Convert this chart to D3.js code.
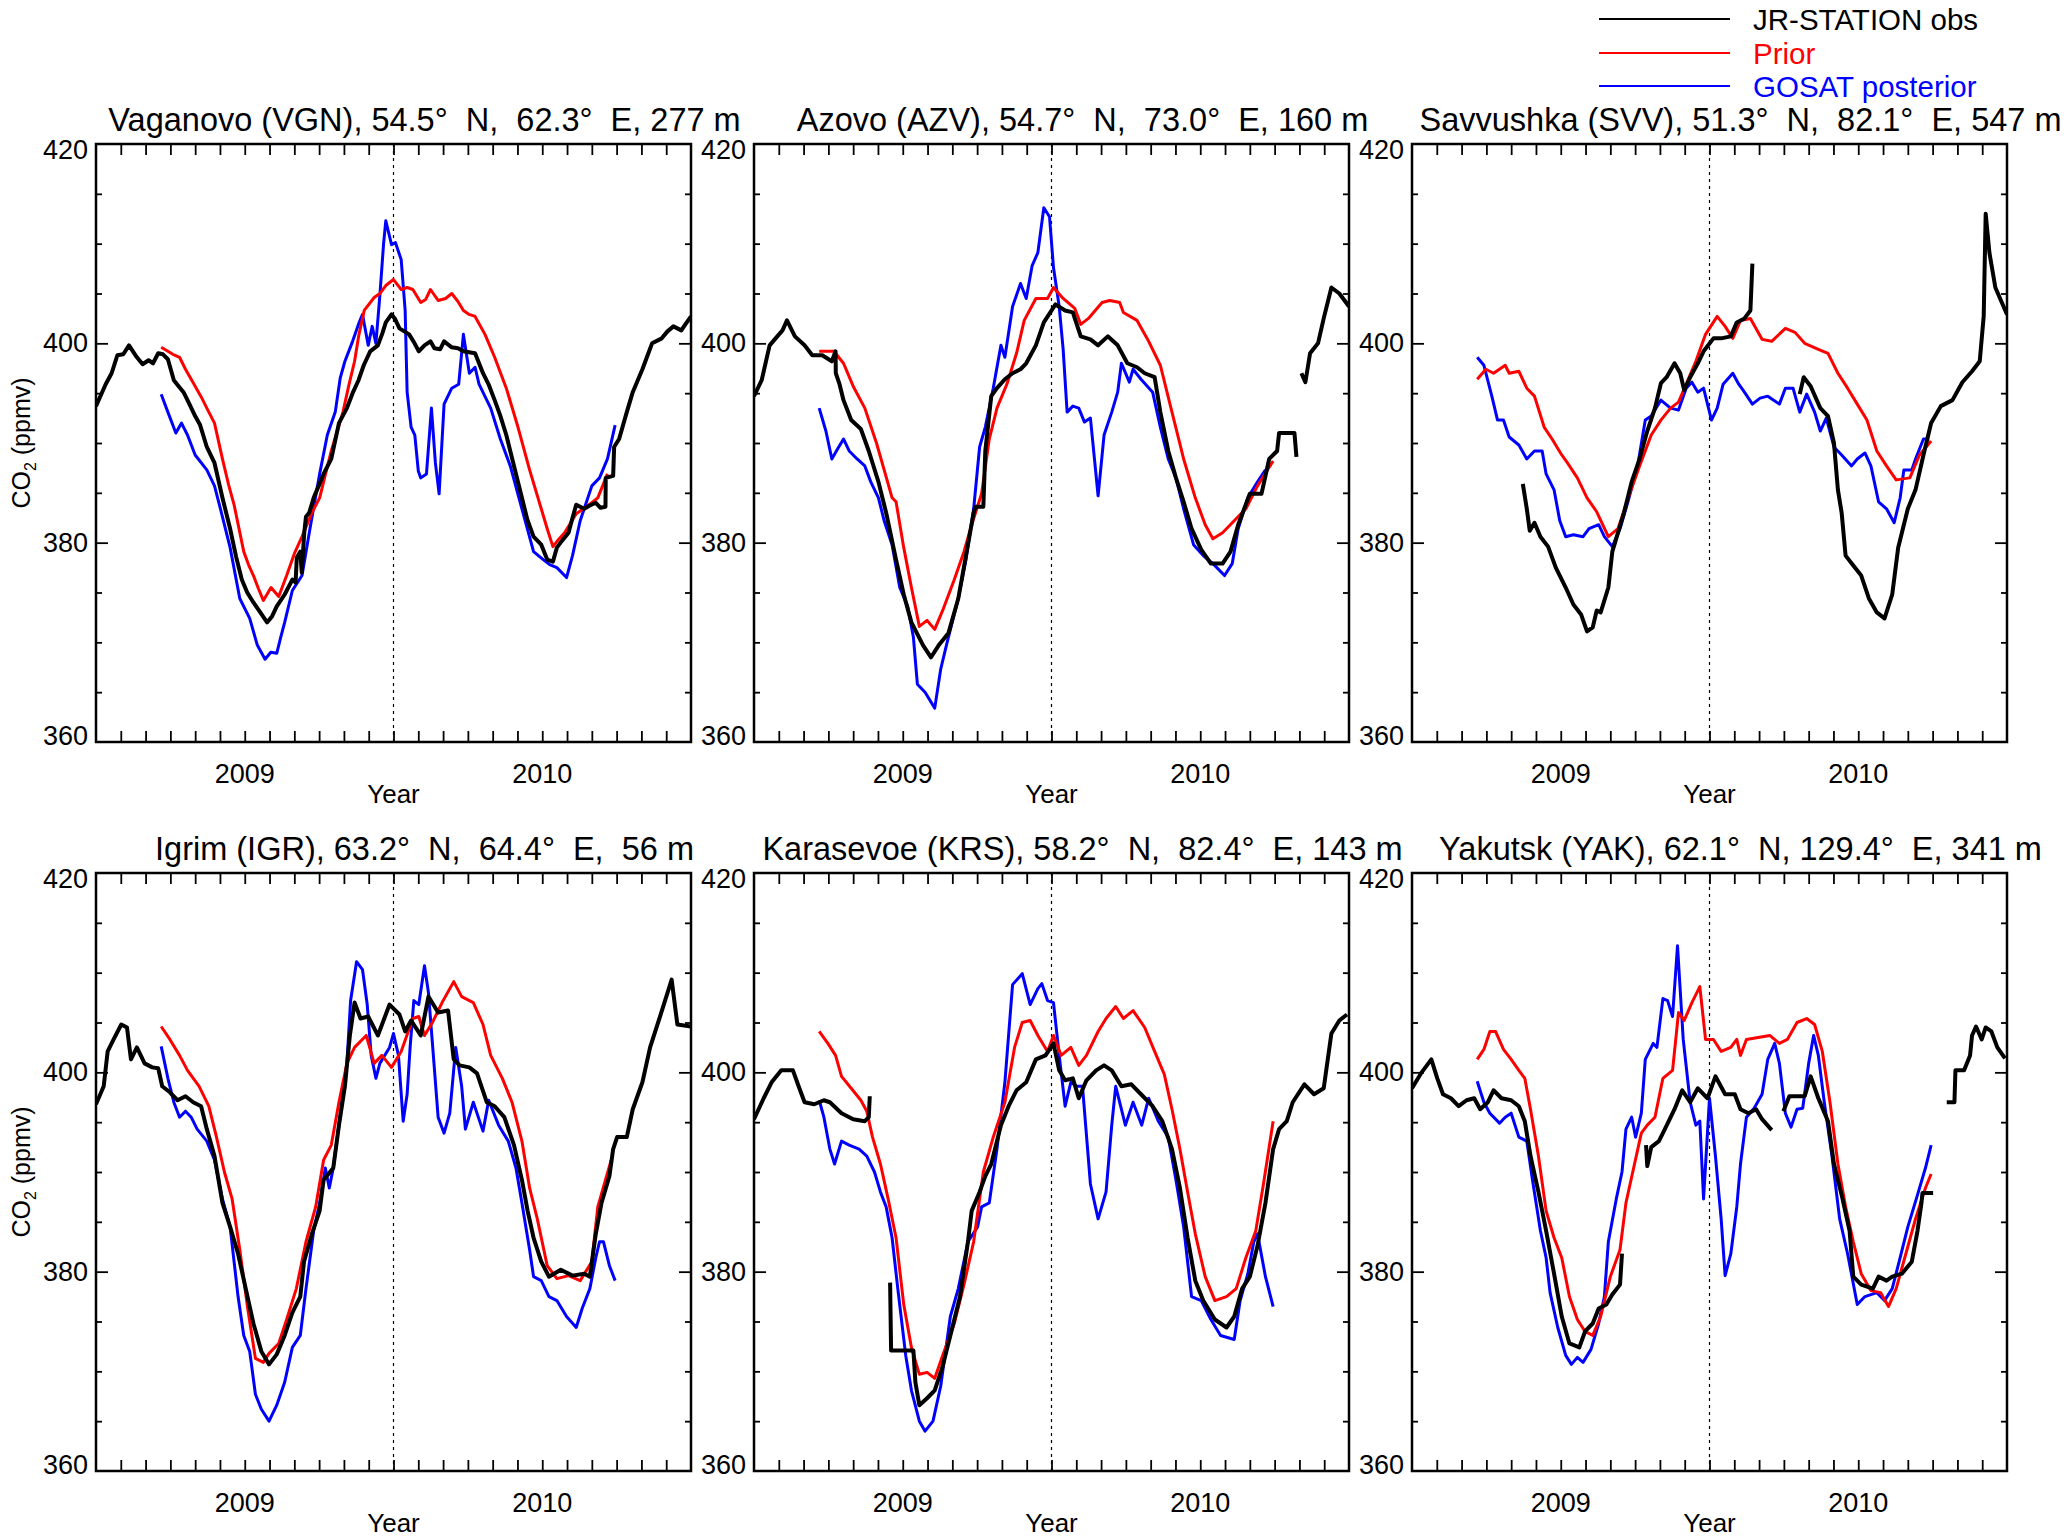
<!DOCTYPE html>
<html>
<head>
<meta charset="utf-8">
<script src="https://cdn.jsdelivr.net/npm/d3@7"></script>
<style>
  html, body { margin: 0; padding: 0; background: #fff; }
  svg { display: block; }
  text { font-family: "Liberation Sans", Arial, Helvetica, sans-serif; white-space: pre; }
</style>
</head>
<body>
<svg id="chart" width="2067" height="1539"></svg>
<script>
// x values: months since 2008-07-01 (0 .. 24), y values: CO2 in ppmv; null = gap
const stationTitles = [
  "Vaganovo (VGN), 54.5°  N,  62.3°  E, 277 m",
  "Azovo (AZV), 54.7°  N,  73.0°  E, 160 m",
  "Savvushka (SVV), 51.3°  N,  82.1°  E, 547 m",
  "Igrim (IGR), 63.2°  N,  64.4°  E,  56 m",
  "Karasevoe (KRS), 58.2°  N,  82.4°  E, 143 m",
  "Yakutsk (YAK), 62.1°  N, 129.4°  E, 341 m"
];
const seriesNames = ["JR-STATION obs", "Prior", "GOSAT posterior"];
const yearTickMonths = [6, 18];
const yearTickLabels = ["2009", "2010"];
const yTickLabels = [360, 380, 400, 420];

const VGN_obs = [[0,393.7],[0.39,395.9],[0.63,397.0],[0.86,398.8],[1.1,398.9],[1.33,399.8],[1.65,398.6],[1.88,397.9],[2.12,398.3],[2.3,398.0],[2.51,399.0],[2.7,398.9],[2.9,398.4],[3.14,396.3],[3.3,395.8],[3.53,395.1],[3.75,394.0],[4.0,392.7],[4.2,391.8],[4.47,389.6],[4.78,388.0],[5.1,384.5],[5.41,381.4],[5.65,378.6],[5.88,376.3],[6.1,375.0],[6.35,374.0],[6.6,373.1],[6.9,372.0],[7.1,372.6],[7.29,373.6],[7.61,374.8],[7.92,376.3],[8.05,376.0],[8.1,378.5],[8.24,379.1],[8.3,377.0],[8.4,381.0],[8.47,382.6],[8.6,383.0],[8.78,384.5],[9.0,385.8],[9.18,386.9],[9.49,388.4],[9.8,392.0],[10.12,393.5],[10.35,395.0],[10.59,396.3],[10.8,397.8],[11.06,399.2],[11.37,399.8],[11.55,401.0],[11.69,402.1],[11.92,402.9],[12.05,402.5],[12.24,401.5],[12.63,400.9],[12.85,400.0],[13.02,399.2],[13.25,399.8],[13.49,400.2],[13.65,399.5],[13.88,399.4],[14.04,400.2],[14.35,399.6],[14.6,399.5],[14.82,399.2],[15.05,399.1],[15.29,399.0],[15.45,398.0],[15.61,397.0],[15.85,395.8],[16.08,394.3],[16.3,392.8],[16.55,390.8],[16.86,387.7],[17.18,384.5],[17.4,382.3],[17.65,380.6],[17.96,379.8],[18.2,378.3],[18.43,378.1],[18.59,379.5],[18.8,380.2],[19.06,381.0],[19.2,382.3],[19.37,383.8],[19.69,383.4],[19.9,383.7],[20.16,384.0],[20.35,383.5],[20.55,383.6],[20.56,386.5],[20.86,386.7],[20.9,389.6],[21.1,390.4],[21.41,393.1],[21.65,395.1],[22.04,397.4],[22.25,398.8],[22.43,400.0],[22.82,400.5],[23.05,401.2],[23.29,401.7],[23.61,401.3],[23.8,402.0],[24,402.7]];
const VGN_prior = [[2.63,399.6],[2.9,399.2],[3.1,398.9],[3.37,398.6],[3.61,397.4],[4.0,395.7],[4.25,394.6],[4.47,393.5],[4.78,392.0],[5.1,388.4],[5.35,385.8],[5.57,383.8],[5.96,379.1],[6.15,377.8],[6.35,376.7],[6.55,375.4],[6.75,374.2],[7.06,375.5],[7.37,374.6],[7.69,376.7],[8.0,378.9],[8.31,380.6],[8.71,383.0],[9.02,384.5],[9.25,386.8],[9.49,389.2],[9.96,393.1],[10.2,395.8],[10.43,398.2],[10.6,400.8],[10.82,403.3],[11.22,404.6],[11.45,405.0],[11.69,405.8],[12.0,406.4],[12.31,405.4],[12.55,405.6],[12.78,405.4],[13.1,404.1],[13.3,404.4],[13.49,405.4],[13.8,404.3],[14.1,404.5],[14.35,405.0],[14.6,404.2],[14.82,403.3],[15.05,402.9],[15.29,402.7],[15.69,400.9],[16.08,398.6],[16.55,395.5],[17.02,391.6],[17.49,387.3],[17.96,383.4],[18.2,381.4],[18.43,379.6],[18.65,380.3],[18.9,381.0],[19.37,382.9],[19.84,383.7],[20.24,384.5],[20.63,386.9]];
const VGN_post = [[2.63,394.9],[2.9,393.1],[3.22,391.0],[3.45,392.0],[3.69,390.8],[4.0,388.8],[4.47,387.3],[4.78,385.7],[5.02,383.4],[5.41,379.5],[5.8,374.4],[6.2,372.4],[6.51,369.7],[6.82,368.3],[7.05,369.0],[7.29,368.9],[7.45,370.5],[7.61,372.0],[7.92,375.2],[8.31,376.7],[8.63,381.4],[9.02,386.9],[9.33,390.8],[9.65,393.1],[9.85,396.5],[10.04,398.2],[10.35,400.2],[10.6,402.0],[10.75,402.9],[10.98,399.8],[11.14,401.7],[11.29,400.0],[11.45,404.8],[11.6,410.0],[11.69,412.3],[11.92,409.9],[12.08,410.1],[12.31,408.4],[12.47,403.3],[12.55,395.1],[12.71,391.6],[12.86,390.8],[13.0,387.2],[13.1,386.5],[13.33,386.9],[13.53,393.5],[13.69,388.0],[13.84,384.9],[14.04,393.9],[14.35,395.5],[14.63,395.9],[14.82,400.9],[15.06,397.0],[15.29,397.6],[15.45,395.9],[15.92,393.5],[16.31,390.4],[16.71,387.7],[17.18,383.4],[17.65,379.1],[18.04,378.3],[18.3,377.8],[18.59,377.5],[18.98,376.5],[19.22,378.7],[19.53,382.2],[20.0,385.7],[20.31,386.5],[20.63,388.4],[20.94,391.8]];

const AZV_obs = [[0,394.7],[0.31,396.3],[0.63,399.8],[0.94,400.7],[1.15,401.3],[1.33,402.3],[1.65,400.7],[2.04,399.8],[2.35,398.8],[2.75,398.8],[3.14,398.2],[3.29,399.2],[3.3,397.0],[3.45,395.9],[3.61,394.3],[3.92,392.3],[4.31,391.4],[4.63,389.2],[5.02,386.1],[5.33,383.0],[5.73,378.3],[6.04,374.8],[6.35,372.0],[6.82,369.7],[7.14,368.5],[7.45,369.7],[7.84,370.9],[8.24,374.4],[8.55,378.7],[8.86,383.0],[8.94,383.6],[9.25,383.6],[9.33,389.2],[9.57,394.7],[9.8,395.5],[10.12,396.4],[10.43,397.0],[10.75,397.4],[10.98,398.0],[11.37,399.8],[11.69,402.1],[12.16,403.9],[12.55,403.3],[12.86,403.1],[13.18,400.7],[13.57,400.4],[13.88,399.8],[14.27,400.7],[14.67,399.8],[15.06,398.0],[15.45,397.6],[15.76,397.0],[16.16,396.6],[16.39,393.1],[16.71,389.2],[17.02,386.5],[17.33,384.1],[17.65,381.4],[18.04,379.3],[18.43,377.9],[18.9,377.9],[19.22,379.1],[19.53,381.8],[20.0,384.9],[20.47,384.9],[20.78,388.4],[21.1,389.2],[21.18,391.0],[21.8,391.0],[21.88,388.6],null,[22.08,397.0],[22.24,396.1],[22.43,399.0],[22.75,400.0],[22.98,402.5],[23.29,405.6],[23.61,405.0],[24,403.7]];
const AZV_prior = [[2.63,399.2],[3.22,399.2],[3.61,398.0],[4.0,395.7],[4.47,393.5],[4.94,390.0],[5.25,387.3],[5.57,384.5],[5.73,384.1],[6.04,379.5],[6.35,375.5],[6.67,371.6],[6.98,372.2],[7.29,371.3],[7.61,373.2],[8.08,376.3],[8.47,379.1],[8.78,381.8],[9.18,384.9],[9.49,390.4],[9.8,393.5],[10.2,395.9],[10.59,399.0],[10.9,402.3],[11.37,404.5],[11.84,404.5],[12.08,405.6],[12.47,404.5],[12.94,403.5],[13.18,401.9],[13.49,402.5],[14.04,404.1],[14.35,404.3],[14.75,404.1],[14.9,403.1],[15.45,402.3],[15.92,400.2],[16.39,397.8],[16.86,393.1],[17.33,388.4],[17.8,384.5],[18.2,381.8],[18.51,380.4],[18.9,381.0],[19.37,382.2],[19.84,383.4],[20.31,385.7],[20.94,388.2]];
const AZV_post = [[2.63,393.5],[2.9,391.2],[3.14,388.4],[3.37,389.4],[3.61,390.4],[3.84,389.2],[4.16,388.4],[4.47,387.7],[4.71,386.1],[5.02,384.5],[5.25,382.2],[5.57,379.8],[5.88,375.5],[6.2,373.6],[6.43,370.5],[6.59,365.8],[6.9,365.0],[7.29,363.4],[7.53,367.3],[7.76,369.7],[8.24,374.4],[8.55,378.3],[8.86,383.4],[9.1,389.6],[9.33,391.6],[9.65,395.5],[9.96,399.8],[10.12,398.6],[10.43,403.7],[10.75,406.0],[10.98,404.5],[11.22,407.8],[11.45,409.1],[11.69,413.6],[11.92,412.7],[12.08,407.6],[12.31,403.7],[12.47,399.4],[12.63,393.1],[12.86,393.7],[13.1,393.5],[13.33,392.1],[13.57,392.5],[13.88,384.7],[14.12,390.8],[14.43,393.1],[14.67,395.1],[14.82,398.0],[15.14,396.1],[15.29,397.4],[15.61,396.4],[16.08,395.1],[16.39,391.6],[16.71,388.4],[17.02,386.5],[17.33,383.4],[17.73,379.8],[18.12,378.7],[18.51,377.9],[18.98,376.7],[19.29,377.9],[19.53,381.4],[19.92,384.5],[20.31,386.1],[20.63,387.3]];

const SVV_obs = [[4.47,385.9],[4.63,383.4],[4.75,381.2],[4.94,382.0],[5.18,380.6],[5.49,379.6],[5.8,377.5],[6.2,375.5],[6.51,373.8],[6.82,372.8],[7.06,371.1],[7.29,371.5],[7.45,373.2],[7.61,373.0],[7.92,375.5],[8.08,379.1],[8.31,381.0],[8.55,383.0],[8.86,386.1],[9.18,388.4],[9.49,391.2],[9.8,393.5],[10.04,396.0],[10.27,396.6],[10.59,398.0],[10.82,397.0],[10.98,395.3],[11.22,396.6],[11.53,398.0],[11.76,399.2],[12.16,400.5],[12.47,400.5],[12.86,400.7],[13.1,402.1],[13.41,402.5],[13.65,403.3],[13.73,408.0],null,[15.64,394.9],[15.8,396.6],[16.08,395.7],[16.47,393.5],[16.78,392.7],[17.02,390.0],[17.18,385.3],[17.33,383.0],[17.49,378.7],[17.8,377.7],[18.12,376.7],[18.43,374.4],[18.75,373.0],[19.06,372.4],[19.37,374.8],[19.61,379.5],[20.0,383.4],[20.31,385.3],[20.63,388.8],[20.94,392.0],[21.33,393.7],[21.8,394.3],[22.2,396.1],[22.59,397.2],[22.9,398.2],[23.06,402.7],[23.14,413.0],[23.29,409.1],[23.53,405.6],[24,402.9]];
const SVV_prior = [[2.63,396.4],[2.98,397.4],[3.29,397.0],[3.76,397.8],[3.92,397.0],[4.31,397.2],[4.63,395.5],[4.94,394.7],[5.33,391.6],[5.65,390.4],[6.04,388.8],[6.27,388.0],[6.67,386.5],[7.06,384.5],[7.45,383.1],[7.92,380.6],[8.31,381.4],[8.78,384.9],[9.18,387.7],[9.65,390.8],[10.04,392.3],[10.43,393.5],[10.75,394.1],[11.06,395.9],[11.45,398.2],[11.84,400.9],[12.31,402.7],[12.63,401.7],[12.94,400.5],[13.25,402.3],[13.65,402.5],[14.12,400.4],[14.51,400.2],[15.06,401.5],[15.45,401.1],[15.84,400.0],[16.39,399.4],[16.78,399.0],[17.18,397.0],[17.57,395.5],[17.96,393.9],[18.35,392.3],[18.75,389.2],[19.14,387.7],[19.53,386.3],[20.08,386.5],[20.47,388.8],[20.94,390.2]];
const SVV_post = [[2.63,398.6],[2.9,397.8],[3.22,394.7],[3.45,392.3],[3.69,392.3],[3.92,390.6],[4.31,389.8],[4.63,388.4],[4.94,389.2],[5.25,389.2],[5.41,386.9],[5.73,385.3],[5.96,382.2],[6.2,380.6],[6.51,380.8],[6.9,380.6],[7.14,381.4],[7.53,381.8],[7.76,380.6],[8.08,379.6],[8.39,381.4],[8.71,384.1],[9.1,387.7],[9.41,392.3],[9.65,392.7],[10.04,394.3],[10.43,393.5],[10.75,393.3],[11.06,395.5],[11.29,396.1],[11.53,395.1],[11.76,395.5],[12.08,392.3],[12.31,393.5],[12.55,395.9],[12.94,397.0],[13.18,395.9],[13.41,395.1],[13.73,393.9],[14.04,394.5],[14.35,394.7],[14.82,393.9],[15.06,395.5],[15.37,395.5],[15.64,393.1],[15.92,394.9],[16.24,393.1],[16.47,391.2],[16.71,392.5],[17.02,389.6],[17.33,388.8],[17.73,387.7],[17.96,388.4],[18.27,389.0],[18.51,387.7],[18.82,384.1],[19.14,383.4],[19.45,382.0],[19.69,384.5],[19.84,387.3],[20.16,387.3],[20.31,388.4],[20.63,390.4],[20.86,390.4]];

const IGR_obs = [[0,396.8],[0.31,398.6],[0.47,402.1],[0.71,403.3],[1.02,404.8],[1.25,404.5],[1.41,401.3],[1.65,402.5],[1.96,400.9],[2.27,400.5],[2.51,400.4],[2.67,398.6],[2.98,398.0],[3.29,397.2],[3.61,397.6],[3.92,397.0],[4.24,396.6],[4.47,394.3],[4.78,391.6],[5.1,386.9],[5.41,384.5],[5.73,381.8],[6.04,378.3],[6.35,374.8],[6.67,372.0],[6.98,370.7],[7.29,371.7],[7.61,373.6],[7.92,375.9],[8.24,377.5],[8.39,381.0],[8.71,383.8],[9.02,386.1],[9.18,389.2],[9.57,390.4],[9.8,394.7],[10.04,398.6],[10.24,403.7],[10.43,407.0],[10.67,405.4],[10.98,405.6],[11.37,403.7],[11.84,406.8],[12.24,405.8],[12.47,404.1],[12.71,405.2],[13.1,403.7],[13.41,407.6],[13.8,406.0],[14.2,406.2],[14.43,401.3],[14.67,400.7],[15.06,400.5],[15.37,399.9],[15.76,397.0],[16.08,396.6],[16.47,395.5],[16.86,392.7],[17.18,389.2],[17.41,386.1],[17.65,383.4],[17.96,381.0],[18.27,379.5],[18.75,380.2],[19.22,379.6],[19.69,379.8],[19.92,379.5],[20.16,383.8],[20.39,386.9],[20.71,389.6],[20.86,392.3],[21.02,393.5],[21.41,393.5],[21.65,396.3],[22.04,399.0],[22.35,402.5],[22.75,405.6],[23.22,409.3],[23.45,404.8],[24,404.6]];
const IGR_prior = [[2.63,404.6],[2.98,403.3],[3.37,401.7],[3.69,400.2],[4.16,398.6],[4.55,396.6],[4.86,393.5],[5.18,390.0],[5.49,387.3],[5.8,382.2],[6.12,376.3],[6.43,371.3],[6.75,370.9],[6.98,371.8],[7.37,372.8],[7.69,375.2],[8.08,378.3],[8.47,383.0],[8.86,386.5],[9.18,391.2],[9.49,392.7],[9.8,397.0],[10.12,400.9],[10.43,402.5],[10.9,403.7],[11.22,400.9],[11.53,401.7],[11.92,400.5],[12.31,402.1],[12.78,405.4],[13.02,405.6],[13.25,403.7],[13.57,405.0],[13.96,407.0],[14.43,409.1],[14.75,407.6],[15.22,407.0],[15.61,404.8],[15.92,401.7],[16.39,399.4],[16.78,397.0],[17.18,393.1],[17.49,388.4],[17.8,385.3],[18.2,380.6],[18.59,379.3],[19.06,379.6],[19.53,379.1],[20.0,381.0],[20.24,386.5],[20.55,389.2],[20.78,391.2]];
const IGR_post = [[2.63,402.6],[2.9,399.4],[3.14,397.0],[3.37,395.5],[3.61,396.1],[3.84,395.5],[4.08,394.3],[4.47,393.1],[4.78,391.2],[5.1,387.3],[5.41,384.5],[5.73,377.5],[5.96,373.6],[6.2,372.0],[6.43,367.7],[6.67,366.2],[6.98,365.0],[7.29,366.6],[7.61,368.9],[7.92,372.4],[8.24,373.6],[8.47,378.3],[8.78,384.1],[9.02,386.9],[9.25,390.4],[9.41,388.4],[9.57,390.4],[9.88,396.3],[10.12,400.9],[10.27,407.2],[10.51,411.1],[10.75,410.3],[10.94,406.8],[11.1,401.7],[11.29,399.4],[11.45,400.9],[11.84,402.5],[12.0,403.9],[12.2,401.7],[12.39,395.1],[12.55,397.8],[12.67,402.5],[12.82,407.2],[13.02,406.8],[13.25,410.7],[13.41,408.0],[13.57,402.9],[13.8,395.5],[14.04,393.9],[14.27,395.9],[14.51,402.5],[14.75,398.6],[14.9,394.3],[15.22,397.0],[15.61,394.1],[15.84,397.2],[16.24,394.7],[16.63,393.1],[16.94,390.4],[17.18,386.9],[17.49,382.2],[17.65,379.5],[17.96,379.1],[18.27,377.5],[18.59,377.1],[18.98,375.5],[19.37,374.4],[19.61,376.3],[19.92,378.3],[20.16,381.4],[20.31,383.0],[20.47,383.0],[20.71,380.6],[20.94,379.1]];

const KRS_obs = [[0,395.3],[0.39,397.4],[0.71,399.0],[1.1,400.2],[1.57,400.2],[1.8,398.6],[2.04,397.0],[2.43,396.8],[2.82,397.2],[3.06,397.0],[3.53,395.9],[4.0,395.3],[4.47,395.1],[4.63,395.5],[4.67,397.6],null,[5.49,378.9],[5.53,372.1],[6.43,372.1],[6.51,368.9],[6.67,366.6],[6.98,367.3],[7.29,368.1],[7.61,370.5],[7.92,373.6],[8.31,377.5],[8.63,383.0],[8.78,386.1],[9.1,388.0],[9.33,389.6],[9.57,390.8],[9.96,394.7],[10.27,396.6],[10.59,398.2],[10.98,399.0],[11.37,401.3],[11.76,401.7],[12.08,402.9],[12.31,400.2],[12.55,399.2],[12.86,399.4],[13.1,397.4],[13.41,399.2],[13.8,400.2],[14.12,400.7],[14.43,400.2],[14.82,398.6],[15.22,398.8],[15.61,397.8],[16.08,396.6],[16.47,395.1],[16.86,392.3],[17.18,388.4],[17.49,383.4],[17.8,379.1],[18.12,377.1],[18.59,375.2],[19.06,374.4],[19.37,375.5],[19.69,378.3],[20.0,379.5],[20.31,382.6],[20.63,386.9],[20.94,392.3],[21.18,394.3],[21.49,395.1],[21.73,397.0],[22.2,398.8],[22.59,397.8],[22.98,398.4],[23.29,403.9],[23.61,405.2],[23.92,405.8]];
const KRS_prior = [[2.63,404.1],[2.98,402.9],[3.29,401.7],[3.53,399.6],[3.92,398.4],[4.31,397.2],[4.55,396.1],[4.78,393.5],[5.1,390.8],[5.41,387.3],[5.73,383.4],[6.04,376.7],[6.35,372.4],[6.67,369.7],[6.98,369.9],[7.29,369.3],[7.61,371.6],[8.08,374.8],[8.47,378.7],[8.86,383.0],[9.25,390.0],[9.65,393.5],[10.12,397.0],[10.51,402.5],[10.82,405.0],[11.14,405.2],[11.45,403.7],[11.84,402.1],[12.08,403.7],[12.39,401.7],[12.78,402.5],[13.1,400.7],[13.41,401.7],[13.88,404.1],[14.2,405.4],[14.59,406.6],[14.9,405.4],[15.29,406.2],[15.76,404.5],[16.16,402.1],[16.55,399.8],[16.86,396.3],[17.18,392.3],[17.49,388.0],[17.8,383.8],[18.2,379.5],[18.59,377.1],[19.06,377.5],[19.45,378.3],[19.84,381.4],[20.24,384.1],[20.55,388.8],[20.94,395.1]];
const KRS_post = [[2.63,397.2],[2.82,395.5],[3.06,392.3],[3.25,390.8],[3.53,393.1],[3.84,392.7],[4.24,392.3],[4.55,391.6],[4.86,390.0],[5.1,388.0],[5.33,386.5],[5.57,383.4],[5.8,378.3],[6.12,371.6],[6.35,368.1],[6.67,365.0],[6.9,364.0],[7.22,365.0],[7.53,368.5],[7.92,375.5],[8.24,378.3],[8.63,383.0],[9.02,384.5],[9.18,386.5],[9.49,386.9],[9.8,392.3],[10.12,399.0],[10.43,408.8],[10.82,409.9],[11.14,406.8],[11.45,408.4],[11.61,408.9],[11.84,407.2],[12.08,407.0],[12.31,401.7],[12.55,396.6],[12.78,399.0],[13.02,398.6],[13.25,398.6],[13.57,388.8],[13.88,385.3],[14.2,388.0],[14.43,394.7],[14.59,398.6],[14.98,394.7],[15.29,397.0],[15.64,394.7],[15.92,397.4],[16.31,395.1],[16.71,393.5],[17.02,389.2],[17.33,384.5],[17.65,377.5],[18.04,377.1],[18.43,375.2],[18.82,373.6],[19.37,373.2],[19.61,377.1],[19.92,379.8],[20.16,383.0],[20.31,383.8],[20.63,379.5],[20.94,376.5]];

const YAK_obs = [[0,398.4],[0.39,400.0],[0.78,401.3],[1.02,399.4],[1.25,397.8],[1.57,397.4],[1.88,396.6],[2.2,397.2],[2.51,397.4],[2.75,396.3],[3.06,397.0],[3.29,398.2],[3.61,397.4],[4.0,397.2],[4.31,396.6],[4.55,395.1],[4.78,391.6],[5.1,388.0],[5.41,384.1],[5.73,379.8],[6.04,375.5],[6.35,372.8],[6.75,372.4],[6.98,374.0],[7.29,374.8],[7.53,376.3],[7.84,376.7],[8.08,377.7],[8.39,378.7],[8.47,381.8],null,[9.44,392.7],[9.49,390.6],[9.65,392.5],[9.96,393.1],[10.2,394.3],[10.59,396.3],[10.9,398.2],[11.22,397.0],[11.53,398.4],[11.92,397.4],[12.24,399.6],[12.63,397.8],[13.02,397.8],[13.25,396.3],[13.57,395.9],[13.88,396.3],[14.12,395.3],[14.51,394.2],null,[14.98,396.1],[15.22,397.6],[15.84,397.6],[16.08,399.6],[16.39,397.4],[16.78,395.1],[17.02,390.8],[17.33,387.7],[17.65,384.1],[17.8,379.5],[18.12,378.7],[18.59,378.3],[18.82,379.5],[19.14,379.1],[19.37,379.5],[19.76,379.8],[20.16,381.0],[20.39,384.1],[20.55,386.9],[20.59,387.9],[21.02,387.9],null,[21.57,397.0],[21.88,397.0],[21.92,400.2],[22.27,400.2],[22.51,401.7],[22.59,403.7],[22.75,404.6],[22.98,403.3],[23.14,404.5],[23.37,404.1],[23.61,402.5],[23.92,401.4]];
const YAK_prior = [[2.63,401.3],[2.9,402.3],[3.14,404.1],[3.37,404.1],[3.69,402.3],[4.0,401.3],[4.31,400.2],[4.55,399.4],[4.78,396.3],[5.1,391.6],[5.41,386.1],[5.73,383.4],[6.04,381.4],[6.35,377.5],[6.67,375.2],[6.98,374.0],[7.29,373.6],[7.61,375.5],[8.0,379.5],[8.39,382.2],[8.63,386.9],[8.94,390.4],[9.25,393.9],[9.49,394.7],[9.8,395.5],[10.12,399.4],[10.51,400.2],[10.75,406.0],[10.98,405.2],[11.29,407.0],[11.61,408.6],[11.84,403.3],[12.16,403.3],[12.47,402.1],[12.86,402.5],[13.1,403.3],[13.25,401.7],[13.49,403.3],[13.96,403.5],[14.43,403.7],[14.82,402.9],[15.14,403.3],[15.53,405.0],[15.92,405.4],[16.24,404.8],[16.55,402.1],[16.86,397.0],[17.18,390.8],[17.49,386.5],[17.8,383.0],[18.12,379.8],[18.51,378.1],[18.9,377.9],[19.22,376.5],[19.53,378.3],[19.92,381.8],[20.31,385.3],[20.71,388.4],[20.94,389.8]];
const YAK_post = [[2.63,399.1],[2.9,397.0],[3.14,395.9],[3.53,394.9],[3.76,395.5],[4.0,395.9],[4.31,393.5],[4.63,393.1],[4.86,389.2],[5.18,384.1],[5.41,381.4],[5.57,377.9],[5.88,374.4],[6.2,371.6],[6.43,370.7],[6.67,371.4],[6.9,370.9],[7.22,372.2],[7.53,374.8],[7.76,377.5],[7.92,383.0],[8.24,387.3],[8.47,390.0],[8.63,394.3],[8.86,395.5],[9.02,393.5],[9.25,395.9],[9.41,401.3],[9.73,402.9],[9.88,402.5],[10.12,407.4],[10.31,407.2],[10.51,405.6],[10.71,412.7],[10.94,403.3],[11.22,397.0],[11.45,394.7],[11.61,395.1],[11.76,387.3],[12.0,397.4],[12.24,391.6],[12.47,385.3],[12.63,379.6],[12.86,381.8],[13.1,386.5],[13.25,390.8],[13.49,395.5],[13.8,396.4],[14.12,397.8],[14.35,401.3],[14.63,402.9],[14.82,400.9],[15.06,395.9],[15.29,394.5],[15.53,396.3],[15.76,396.4],[16.0,400.9],[16.2,403.7],[16.39,401.7],[16.63,397.0],[16.94,391.6],[17.25,385.3],[17.57,381.8],[17.96,376.7],[18.27,377.5],[18.75,377.9],[19.06,377.1],[19.37,378.3],[19.69,381.4],[20.0,384.5],[20.39,387.7],[20.71,390.4],[20.94,392.7]];

const obsSeries = [VGN_obs, AZV_obs, SVV_obs, IGR_obs, KRS_obs, YAK_obs];
const priorSeries = [VGN_prior, AZV_prior, SVV_prior, IGR_prior, KRS_prior, YAK_prior];
const postSeries = [VGN_post, AZV_post, SVV_post, IGR_post, KRS_post, YAK_post];

// ---------- layout ----------
const svg = d3.select("#chart");
const colLeft = [96, 754, 1412];
const rowTop = [144, 873];
const pw = 595, ph = 598;
const colors = ["#000000", "#ff0000", "#0000ff"];
const widths = [4, 3, 3];

const x = d3.scaleLinear().domain([0, 24]).range([0, pw]);
const y = d3.scaleLinear().domain([360, 420]).range([ph, 0]);

const line = d3.line()
  .defined(d => d !== null)
  .x(d => x(d[0]))
  .y(d => y(d[1]));

for (let i = 0; i < 6; i++) {
  const col = i % 3, row = Math.floor(i / 3);
  const L = colLeft[col], T = rowTop[row];
  const g = svg.append("g").attr("transform", `translate(${L},${T})`);

  g.append("clipPath").attr("id", "clip" + i)
    .append("rect").attr("width", pw).attr("height", ph);

  // dotted mid-line
  g.append("line")
    .attr("x1", x(12)).attr("x2", x(12)).attr("y1", 0).attr("y2", ph)
    .attr("stroke", "#000").attr("stroke-width", 1.2).attr("stroke-dasharray", "3,4");

  // axes (ticks inward)
  const monthTicks = d3.range(1, 24);
  g.append("g").attr("transform", `translate(0,${ph})`)
    .call(d3.axisBottom(x).tickValues(monthTicks).tickSize(-11).tickFormat(""))
    .call(a => a.select(".domain").remove());
  g.append("g")
    .call(d3.axisTop(x).tickValues(monthTicks).tickSize(-11).tickFormat(""))
    .call(a => a.select(".domain").remove());
  const minorY = d3.range(365, 420, 5).filter(v => v % 20 !== 0);
  const majorY = [380, 400];
  g.append("g").call(d3.axisLeft(y).tickValues(minorY).tickSize(-6).tickFormat("")).call(a => a.select(".domain").remove());
  g.append("g").call(d3.axisLeft(y).tickValues(majorY).tickSize(-12).tickFormat("")).call(a => a.select(".domain").remove());
  g.append("g").attr("transform", `translate(${pw},0)`).call(d3.axisRight(y).tickValues(minorY).tickSize(-6).tickFormat("")).call(a => a.select(".domain").remove());
  g.append("g").attr("transform", `translate(${pw},0)`).call(d3.axisRight(y).tickValues(majorY).tickSize(-12).tickFormat("")).call(a => a.select(".domain").remove());
  g.selectAll(".tick line").attr("stroke", "#000").attr("stroke-width", 1.8);

  // y labels
  yTickLabels.forEach(v => {
    let dy = 0;
    if (v === 420) dy = 6;
    if (v === 360) dy = -6;
    g.append("text").attr("x", -8).attr("y", y(v) + dy)
      .attr("text-anchor", "end").attr("dominant-baseline", "central")
      .attr("font-size", 27).text(v);
  });
  // x labels
  yearTickMonths.forEach((m, k) => {
    g.append("text").attr("x", x(m)).attr("y", ph + 41)
      .attr("text-anchor", "middle").attr("font-size", 27).text(yearTickLabels[k]);
  });
  g.append("text").attr("x", pw / 2).attr("y", ph + 61)
    .attr("text-anchor", "middle").attr("font-size", 26).text("Year");

  // title
  g.append("text").attr("x", pw / 2 + 31).attr("y", -13)
    .attr("text-anchor", "middle").attr("font-size", 32.5).text(stationTitles[i]);

  // data lines
  const data = [obsSeries[i], priorSeries[i], postSeries[i]];
  const order = [2, 1, 0];
  const lg = g.append("g").attr("clip-path", `url(#clip${i})`);
  order.forEach(s => {
    lg.append("path").datum(data[s])
      .attr("d", line)
      .attr("fill", "none")
      .attr("stroke", colors[s])
      .attr("stroke-width", widths[s])
      .attr("stroke-linejoin", "round")
      .attr("stroke-linecap", "butt");
  });

  // frame
  g.append("rect").attr("width", pw).attr("height", ph)
    .attr("fill", "none").attr("stroke", "#000").attr("stroke-width", 2.5);

  // y-axis title for left column
  if (col === 0) {
    const t = svg.append("text")
      .attr("transform", `translate(${30},${T + ph / 2}) rotate(-90)`)
      .attr("text-anchor", "middle").attr("font-size", 25);
    t.append("tspan").text("CO");
    t.append("tspan").attr("font-size", 16).attr("dy", 6).text("2");
    t.append("tspan").attr("dy", -6).text(" (ppmv)");
  }
}

// legend
const legY = [19, 53, 86];
seriesNames.forEach((name, k) => {
  svg.append("line").attr("x1", 1599).attr("x2", 1730).attr("y1", legY[k]).attr("y2", legY[k])
    .attr("stroke", colors[k]).attr("stroke-width", 2);
  svg.append("text").attr("x", 1753).attr("y", legY[k])
    .attr("dominant-baseline", "central").attr("font-size", 29.5)
    .attr("fill", colors[k]).text(name);
});
</script>
</body>
</html>
